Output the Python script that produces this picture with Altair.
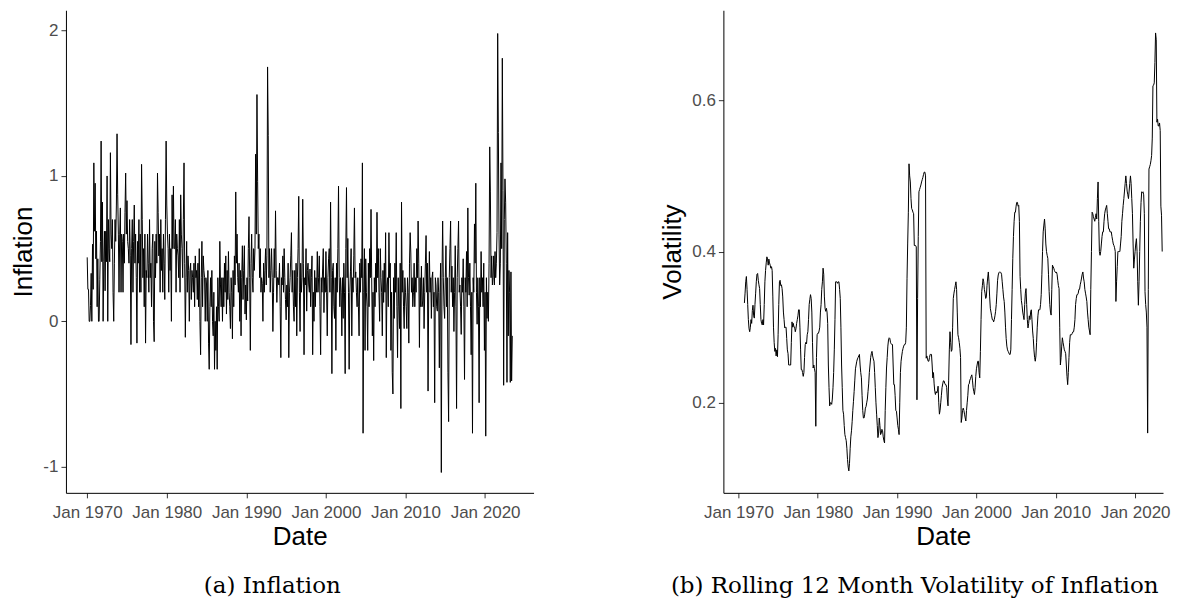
import altair as alt
import pandas as pd

# Monthly inflation (%), Jan 1970 - Jun 2023
inflation_1970s = [
    0.44, 0.22, 0.22, 0.0, 0.0, 0.11, 0.33, 0.0, 0.53, 0.22, 1.09, 0.62,
    0.95, 0.43, 0.62, 0.1, 0.43, 0.0, 0.0, 0.29, 0.55, 1.24, 0.41, 0.82,
    0.0, 0.41, 0.62, 0.21, 0.62, 0.41, 1.0, 0.0, 0.7, 0.5, 0.41, 1.16,
    0.6, 0.5, 0.7, 0.2, 0.0, 0.4, 0.7, 0.55, 0.8, 1.29, 0.87, 0.6,
    0.2, 0.6, 0.78, 0.2, 0.6, 0.55, 0.2, 0.6, 0.4, 0.75, 1.02, 0.6,
    0.83, 0.55, 0.5, 0.4, 0.7, 0.45, -0.16, 0.5, 0.7, 0.2, 0.55, 0.8,
    0.4, 0.6, 0.3, -0.15, 0.55, 0.4, 0.7, 0.2, 0.6, 0.2, 1.08, 0.7,
    0.3, 0.5, 0.1, 0.6, -0.15, 0.35, 0.3, 0.6, 0.4, 0.2, 0.7, 0.3,
    0.4, 0.1, 0.5, 0.6, 0.0, -0.14, 0.55, 0.3, 0.6, 0.4, 1.02, 0.75,
    0.45, 0.6, 0.2, 0.7, 0.35, 0.5, 0.2, 0.6, 0.4, 0.15, 0.7, 1.24,
]
inflation_1980s = [
    0.8, 0.6, 0.5, 0.2, 0.6, 0.35, 0.5, 0.0, 0.87, 0.5, 0.93, 0.5,
    0.5, 0.7, 0.2, 0.6, 0.5, 0.45, 0.3, 0.7, 0.2, 0.87, 0.6, 0.5,
    0.3, 0.7, 1.09, 0.4, -0.11, 0.3, 0.55, 0.2, 0.45, 0.35, 0.0, 0.35,
    0.4, 0.15, 0.35, 0.3, 0.2, 0.4, 0.1, 0.45, 0.3, 0.35, 0.15, 0.4,
    0.1, 0.5, 0.0, -0.23, 0.3, 0.55, 0.1, 0.45, 0.35, 0.3, 0.0, 0.3,
    0.25, 0.0, 0.35, -0.15, -0.33, 0.1, 0.3, 0.1, 0.35, 0.0, -0.1, 0.2,
    -0.33, 0.0, -0.2, 0.1, -0.33, 0.3, 0.1, 0.0, 0.55, 0.25, 0.1, 0.3,
    0.0, 0.3, 0.1, 0.4, 0.2, 0.45, 0.05, 0.35, 0.15, 0.48, 0.2, 0.1,
    -0.05, 0.3, 0.2, -0.12, 0.35, 0.1, 0.45, 0.25, 0.89, 0.4, 0.6, 0.3,
    0.2, 0.4, 0.0, 0.35, -0.1, 0.3, 0.52, 0.15, 0.35, 0.52, 0.05, 0.25,
]
inflation_1990s = [
    0.01, 0.3, 0.14, 0.5, 0.72, 0.3, -0.2, 0.4, 0.6, 0.3, 0.2, 0.5,
    0.35, 0.5, 1.15, 0.6, 1.56, 0.96, 0.5, 0.6, 0.3, 0.5, 0.2, 0.3,
    0.26, 0.0, 0.4, 0.2, 0.35, 0.5, 0.25, 0.45, 1.75, 1.28, 0.3, 0.5,
    0.2, 0.35, 0.5, 0.3, -0.07, 0.2, 0.5, 0.3, 0.76, 0.35, 0.13, 0.3,
    0.3, 0.25, 0.4, 0.1, -0.25, 0.3, 0.25, 0.45, 0.2, 0.5, 0.3, 0.15,
    0.01, 0.25, 0.1, 0.4, -0.25, 0.2, 0.3, 0.45, 0.61, 0.2, 0.35, 0.1,
    0.0, 0.35, 0.1, 0.4, -0.1, 0.3, 0.5, 0.86, 0.2, -0.07, 0.4, 0.2,
    0.3, 0.84, 0.4, -0.23, 0.3, 0.25, 0.5, 0.07, 0.35, 0.4, 0.25, 0.2,
    0.36, 0.1, 0.3, 0.45, -0.23, 0.2, 0.0, 0.35, 0.1, 0.3, 0.2, 0.48,
    0.2, 0.3, 0.45, 0.1, -0.23, 0.3, 0.2, 0.36, 0.5, 0.06, 0.3, 0.2,
]
inflation_2000s = [
    0.48, 0.2, -0.1, 0.3, 0.43, 0.5, 0.2, 0.82, 0.3, -0.36, 0.35, 0.4,
    0.1, 0.02, 0.3, -0.2, 0.4, 0.2, 0.5, 0.93, 0.3, 0.1, 0.3, 0.2,
    -0.1, 0.3, 0.02, 0.4, 0.2, -0.36, 0.5, 0.92, 0.3, 0.57, 0.2, -0.33,
    0.2, 0.34, 0.5, -0.1, 0.3, 0.2, 0.45, 0.78, 0.3, 0.34, 0.2, 0.1,
    0.3, 0.1, -0.1, 0.4, 0.2, 0.43, 0.3, 1.09, -0.77, 0.2, 0.5, -0.2,
    0.43, 0.2, 0.1, -0.2, 0.4, 0.1, 0.5, 0.3, 0.77, 0.3, -0.1, 0.2,
    -0.27, 0.3, 0.1, 0.4, 0.2, 0.75, 0.3, 0.5, 0.2, 0.0, 0.5, 0.3,
    0.2, -0.1, 0.35, 0.13, 0.4, 0.2, 0.61, -0.25, 0.25, 0.3, 0.1, 0.61,
    0.3, 0.4, -0.2, 0.2, -0.35, -0.5, 0.3, 0.02, 0.4, 0.2, 0.61, 0.1,
    -0.25, 0.3, 0.1, -0.05, 0.4, -0.6, 0.82, 0.2, 0.35, 0.1, -0.05, 0.3,
]
inflation_2010s = [
    0.2, 0.1, -0.05, 0.3, 0.2, -0.15, 0.4, 0.61, 0.47, 0.2, 0.3, 0.1,
    0.2, 0.4, 0.1, 0.3, 0.2, 0.5, 0.3, 0.69, 0.4, -0.18, 0.3, 0.1,
    0.38, 0.1, 0.14, 0.3, -0.05, 0.2, 0.4, 0.59, 0.2, 0.4, -0.48, 0.2,
    0.48, 0.2, 0.3, 0.02, 0.3, 0.34, 0.1, 0.2, -0.56, 0.3, 0.25, 0.1,
    0.07, 0.3, 0.2, -0.32, 0.2, 0.4, -1.04, 0.3, 0.69, 0.3, 0.1, 0.02,
    0.3, 0.52, 0.1, 0.3, -0.35, -0.69, 0.3, 0.5, 0.69, 0.2, 0.38, 0.1,
    0.3, -0.07, 0.2, 0.52, 0.1, -0.6, 0.3, 0.5, 0.69, 0.2, 0.25, 0.1,
    -0.09, 0.3, 0.2, 0.43, 0.1, -0.4, 0.3, 0.2, 0.48, 0.1, 0.78, 0.3,
    0.18, 0.4, 0.1, -0.23, 0.2, -0.77, 0.3, 0.2, 0.67, 0.4, 0.95, 0.2,
    -0.02, 0.3, 0.1, -0.56, 0.3, 0.1, 0.48, 0.2, 0.3, 0.1, 0.4, -0.2,
]
inflation_2020s = [
    0.2, -0.79, 0.3, 0.02, 0.2, 0.0, 0.4, 1.2, 0.89, 0.3, 0.45, 0.25,
    0.3, 0.45, 0.25, 0.48, 0.3, 0.4, 0.61, 1.98, 1.3, 0.6, 0.25, 0.4,
    1.09, 0.5, 1.81, 0.9, -0.44, 0.7, 0.98, 0.82, 0.4, -0.42, 0.61, -0.1,
    0.35, 0.2, -0.42, 0.34, -0.41, -0.1,
]

# Rolling 12-month volatility, Oct 1970 - Jun 2023
volatility_1970s = [
    0.332, 0.345, 0.36,
    0.367, 0.35, 0.33, 0.31, 0.298, 0.294, 0.30, 0.31, 0.305, 0.322, 0.329, 0.315,
    0.312, 0.33, 0.345, 0.36, 0.37, 0.371, 0.362, 0.356, 0.351, 0.33, 0.31, 0.305,
    0.303, 0.31, 0.303, 0.33, 0.36, 0.375, 0.385, 0.393, 0.39, 0.382, 0.39, 0.385,
    0.382, 0.378, 0.38, 0.375, 0.34, 0.30, 0.28, 0.268, 0.272, 0.262, 0.27, 0.261,
    0.29, 0.33, 0.36, 0.362, 0.355, 0.356, 0.351, 0.34, 0.32, 0.31, 0.299, 0.30,
    0.30, 0.285, 0.27, 0.265, 0.25, 0.25, 0.25, 0.25, 0.28, 0.307, 0.30, 0.305,
    0.30, 0.30, 0.294, 0.298, 0.305, 0.31, 0.315, 0.323, 0.323, 0.30, 0.27, 0.244,
    0.244, 0.24, 0.235, 0.24, 0.26, 0.277, 0.28, 0.278, 0.29, 0.294, 0.31, 0.33,
    0.337, 0.343, 0.338, 0.32, 0.28, 0.246, 0.25, 0.245, 0.24, 0.169, 0.26, 0.29,
]
volatility_1980s = [
    0.292, 0.292, 0.295, 0.30, 0.32, 0.33, 0.35, 0.36, 0.378, 0.37, 0.34, 0.325,
    0.321, 0.325, 0.32, 0.305, 0.25, 0.22, 0.196, 0.2, 0.2, 0.198, 0.205, 0.22,
    0.24, 0.27, 0.31, 0.36, 0.36, 0.36, 0.358, 0.36, 0.36, 0.35, 0.338, 0.30,
    0.25, 0.22, 0.19, 0.185, 0.17, 0.158, 0.154, 0.15, 0.14, 0.125, 0.115, 0.11,
    0.12, 0.14, 0.155, 0.163, 0.175, 0.19, 0.202, 0.215, 0.23, 0.245, 0.25, 0.255,
    0.258, 0.26, 0.262, 0.264, 0.25, 0.24, 0.233, 0.21, 0.19, 0.18, 0.18, 0.185,
    0.193, 0.195, 0.20, 0.205, 0.215, 0.225, 0.24, 0.25, 0.26, 0.265, 0.268, 0.262,
    0.258, 0.255, 0.24, 0.22, 0.2, 0.185, 0.17, 0.154, 0.16, 0.18, 0.17, 0.158,
    0.16, 0.165, 0.163, 0.155, 0.15, 0.147, 0.19, 0.22, 0.246, 0.26, 0.275, 0.283,
    0.286, 0.285, 0.28, 0.278, 0.277, 0.277, 0.25, 0.224, 0.224, 0.21, 0.19, 0.189,
]
volatility_1990s = [
    0.18, 0.17, 0.165, 0.158, 0.2, 0.24, 0.255, 0.262, 0.268, 0.272, 0.275, 0.277,
    0.277, 0.28, 0.3, 0.364, 0.41, 0.452, 0.516, 0.50, 0.492, 0.47, 0.457, 0.455,
    0.452, 0.45, 0.408, 0.408, 0.408, 0.406, 0.204, 0.338, 0.42, 0.479, 0.482, 0.485,
    0.488, 0.492, 0.495, 0.498, 0.502, 0.505, 0.505, 0.50, 0.259, 0.262, 0.258, 0.255,
    0.255, 0.26, 0.264, 0.264, 0.264, 0.25, 0.233, 0.24, 0.225, 0.215, 0.211, 0.215,
    0.213, 0.215, 0.222, 0.2, 0.185, 0.19, 0.20, 0.21, 0.22, 0.225, 0.229, 0.229,
    0.226, 0.224, 0.224, 0.22, 0.205, 0.196, 0.23, 0.27, 0.294, 0.28, 0.268, 0.27,
    0.30, 0.338, 0.345, 0.35, 0.355, 0.36, 0.35, 0.32, 0.29, 0.286, 0.28, 0.272,
    0.26, 0.174, 0.18, 0.19, 0.193, 0.19, 0.185, 0.18, 0.176, 0.19, 0.20, 0.21,
    0.224, 0.225, 0.23, 0.232, 0.235, 0.237, 0.23, 0.22, 0.215, 0.211, 0.22, 0.235,
]
volatility_2000s = [
    0.245, 0.25, 0.255, 0.255, 0.24, 0.233, 0.268, 0.31, 0.347, 0.355, 0.364, 0.36,
    0.35, 0.345, 0.338, 0.34, 0.355, 0.365, 0.373, 0.36, 0.34, 0.325, 0.32, 0.315,
    0.31, 0.31, 0.307, 0.31, 0.315, 0.321, 0.33, 0.345, 0.362, 0.369, 0.372, 0.373,
    0.373, 0.372, 0.37, 0.36, 0.35, 0.34, 0.334, 0.32, 0.30, 0.285, 0.275, 0.27,
    0.268, 0.266, 0.264, 0.264, 0.27, 0.31, 0.35, 0.391, 0.42, 0.44, 0.452, 0.452,
    0.46, 0.465, 0.465, 0.46, 0.461, 0.44, 0.367, 0.35, 0.335, 0.329, 0.32, 0.315,
    0.31, 0.33, 0.345, 0.351, 0.33, 0.31, 0.299, 0.305, 0.315, 0.31, 0.32, 0.323,
    0.31, 0.295, 0.285, 0.27, 0.26, 0.255, 0.262, 0.28, 0.30, 0.315, 0.323, 0.323,
    0.323, 0.33, 0.343, 0.37, 0.40, 0.426, 0.435, 0.443, 0.43, 0.41, 0.40, 0.395,
    0.391, 0.37, 0.347, 0.33, 0.32, 0.316, 0.35, 0.382, 0.38, 0.378, 0.375, 0.373,
]
volatility_2010s = [
    0.372, 0.373, 0.37, 0.362, 0.355, 0.351, 0.30, 0.25, 0.26, 0.275, 0.286, 0.28,
    0.275, 0.27, 0.268, 0.265, 0.25, 0.235, 0.224, 0.24, 0.26, 0.28, 0.29, 0.29,
    0.29, 0.292, 0.294, 0.294, 0.30, 0.31, 0.33, 0.338, 0.343, 0.343, 0.345, 0.35,
    0.35, 0.356, 0.36, 0.365, 0.37, 0.373, 0.365, 0.36, 0.35, 0.345, 0.34, 0.334,
    0.32, 0.31, 0.30, 0.295, 0.29, 0.35, 0.40, 0.452, 0.45, 0.446, 0.443, 0.44,
    0.445, 0.45, 0.443, 0.47, 0.492, 0.44, 0.40, 0.395, 0.40, 0.41, 0.42, 0.426,
    0.426, 0.44, 0.45, 0.455, 0.458, 0.461, 0.45, 0.44, 0.43, 0.43, 0.426, 0.426,
    0.426, 0.42, 0.415, 0.41, 0.408, 0.405, 0.40, 0.334, 0.36, 0.38, 0.40, 0.40,
    0.40, 0.40, 0.41, 0.42, 0.44, 0.45, 0.461, 0.47, 0.48, 0.49, 0.50, 0.49,
    0.48, 0.475, 0.47, 0.48, 0.49, 0.50, 0.49, 0.47, 0.45, 0.41, 0.378, 0.39,
]
volatility_2020s = [
    0.40, 0.41, 0.417, 0.40, 0.36, 0.329, 0.36, 0.40, 0.44, 0.465, 0.479, 0.478,
    0.479, 0.475, 0.45, 0.347, 0.33, 0.32, 0.30, 0.16, 0.35, 0.509, 0.512, 0.515,
    0.52, 0.527, 0.55, 0.619, 0.62, 0.623, 0.65, 0.689, 0.68, 0.571, 0.575, 0.566,
    0.566, 0.57, 0.56, 0.46, 0.448, 0.40,
]

x_ticks = [1970, 1980, 1990, 2000, 2010, 2020]
infl_ticks = [-1, 0, 1, 2]
vol_ticks = [0.2, 0.4, 0.6]

inflation = (inflation_1970s + inflation_1980s + inflation_1990s
             + inflation_2000s + inflation_2010s + inflation_2020s)
volatility = (volatility_1970s + volatility_1980s + volatility_1990s
              + volatility_2000s + volatility_2010s + volatility_2020s)

df_inf = pd.DataFrame({"t": [1970 + i / 12 for i in range(len(inflation))],
                       "v": inflation})
df_vol = pd.DataFrame({"t": [1970 + (9 + i) / 12 for i in range(len(volatility))],
                       "v": volatility})

H = 483
x_axis_common = dict(values=x_ticks, labelExpr="'Jan ' + datum.value",
                     title="Date", labelOverlap=False, labelFlush=False,
                     labelPadding=7, titlePadding=3)


def y_axis(ticks, expr, title, tx):
    return alt.Axis(values=ticks, labelExpr=expr, title=title, labelPadding=3,
                    titleX=tx, titleY=H / 2, titleAngle=-90, titleAlign="center",
                    titleBaseline="middle")


caption_style = dict(orient="bottom", anchor="middle", frame="bounds",
                     font="DejaVu Serif", fontSize=23, fontWeight="normal",
                     color="black", offset=25)

left = alt.Chart(df_inf).mark_line(color="black", strokeWidth=1.0).encode(
    x=alt.X("t:Q", scale=alt.Scale(domain=[1967.33, 2026.09], nice=False, zero=False),
            axis=alt.Axis(**x_axis_common)),
    y=alt.Y("v:Q", scale=alt.Scale(domain=[-1.18, 2.14], nice=False, zero=False),
            axis=y_axis(infl_ticks, "'' + datum.value", "Inflation", -42)),
).properties(
    width=468, height=H,
    title=alt.TitleParams("(a) Inflation", **caption_style),
)

right = alt.Chart(df_vol).mark_line(color="black", strokeWidth=1.0).encode(
    x=alt.X("t:Q", scale=alt.Scale(domain=[1968.1, 2023.52], nice=False, zero=False),
            axis=alt.Axis(**x_axis_common)),
    y=alt.Y("v:Q", scale=alt.Scale(domain=[0.081, 0.719], nice=False, zero=False),
            axis=y_axis(vol_ticks, "format(datum.value, '.1f')", "Volatility", -51)),
).properties(
    width=440, height=H,
    title=alt.TitleParams("(b) Rolling 12 Month Volatility of Inflation", **caption_style),
)

chart = alt.hconcat(left, right, spacing=126).properties(
    padding={"left": 3, "top": 2, "right": 0, "bottom": 0}
).configure_axis(
    domainColor="black", domainWidth=1, tickColor="#333333", tickWidth=1, tickSize=5,
    labelColor="#4D4D4D", labelFont="Liberation Sans", labelFontSize=17,
    titleFont="Liberation Sans", titleFontSize=26, titleFontWeight="normal",
    titleColor="black", grid=False,
).configure_view(stroke=None)

chart.save("out.html", embed_options={"renderer": "svg", "actions": False})
